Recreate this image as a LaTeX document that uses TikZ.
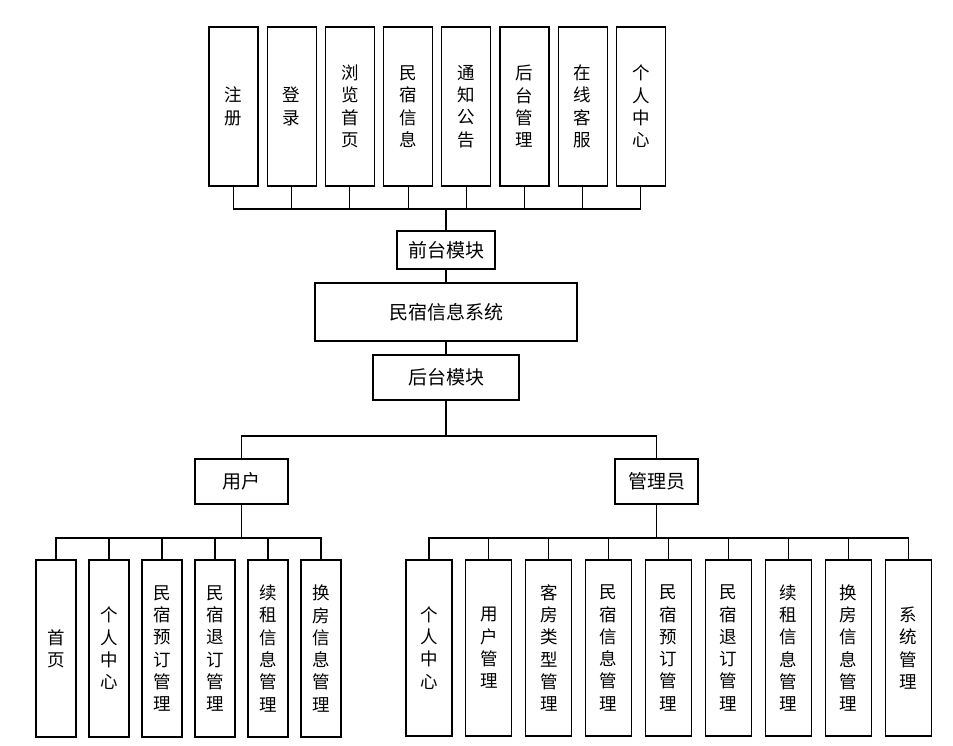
\documentclass[tikz,border=0pt]{standalone}
\usepackage{fontspec}
\setmainfont{Noto Sans CJK SC}
\usepackage{tikz}
\usetikzlibrary{positioning}

\tikzset{
  vbox/.style={draw, line width=1.1pt, align=center, inner sep=1pt,
               font=\fontsize{17.5}{22.3}\selectfont},
  topbox/.style={vbox, minimum width=49pt, minimum height=159pt},
  ubox/.style={vbox, minimum width=40pt, minimum height=177pt},
  abox/.style={vbox, minimum width=46pt, minimum height=176pt},
  hbox/.style={draw, line width=1.1pt, inner sep=1pt,
               font=\fontsize{19}{22}\selectfont},
}

\begin{document}
\begin{tikzpicture}[x=1pt, y=-1pt, line width=1.1pt]
\useasboundingbox (0,0) rectangle (953,746);

% front modules
\node[topbox] (reg) at (233.5,106.5) {注\\册};
\node[topbox, right=8.1pt of reg] (login) {登\\录};
\node[topbox, right=8.1pt of login] (browse) {浏\\览\\首\\页};
\node[topbox, right=8.1pt of browse] (info) {民\\宿\\信\\息};
\node[topbox, right=8.1pt of info] (notice) {通\\知\\公\\告};
\node[topbox, right=8.1pt of notice] (back) {后\\台\\管\\理};
\node[topbox, right=8.1pt of back] (service) {在\\线\\客\\服};
\node[topbox, right=8.1pt of service] (center) {个\\人\\中\\心};

% middle
\node[hbox, minimum width=98pt, minimum height=38pt] (front) at (446,250) {前台模块};
\node[hbox, minimum width=262pt, minimum height=58pt] (sys) at (446,312) {民宿信息系统};
\node[hbox, minimum width=146pt, minimum height=45pt] (backend) at (446,377.5) {后台模块};
\node[hbox, minimum width=93pt, minimum height=45pt] (user) at (241.5,481.5) {用户};
\node[hbox, minimum width=83pt, minimum height=45pt] (admin) at (656.5,481.5) {管理员};

% user modules
\node[ubox] (uhome) at (56,648.5) {首\\页};
\node[ubox, right=11.9pt of uhome] (ucenter) {个\\人\\中\\心};
\node[ubox, right=11.9pt of ucenter] (ubook) {民\\宿\\预\\订\\管\\理};
\node[ubox, right=11.9pt of ubook] (ucancel) {民\\宿\\退\\订\\管\\理};
\node[ubox, right=11.9pt of ucancel] (urenew) {续\\租\\信\\息\\管\\理};
\node[ubox, right=11.9pt of urenew] (uswap) {换\\房\\信\\息\\管\\理};

% admin modules
\node[abox] (acenter) at (429,648) {个\\人\\中\\心};
\node[abox, right=12.8pt of acenter] (auser) {用\\户\\管\\理};
\node[abox, right=12.8pt of auser] (aroom) {客\\房\\类\\型\\管\\理};
\node[abox, right=12.8pt of aroom] (ainfo) {民\\宿\\信\\息\\管\\理};
\node[abox, right=12.8pt of ainfo] (abook) {民\\宿\\预\\订\\管\\理};
\node[abox, right=12.8pt of abook] (acancel) {民\\宿\\退\\订\\管\\理};
\node[abox, right=12.8pt of acancel] (arenew) {续\\租\\信\\息\\管\\理};
\node[abox, right=12.8pt of arenew] (aswap) {换\\房\\信\\息\\管\\理};
\node[abox, right=12.8pt of aswap] (asys) {系\\统\\管\\理};

\coordinate (fbus) at (446,209);
\coordinate (bbus) at (446,436);
\coordinate (ubus) at (241.5,538);
\coordinate (abus) at (656.5,538);

\draw (reg.south) |- (fbus) (login.south) |- (fbus) (browse.south) |- (fbus)
      (info.south) |- (fbus) (notice.south) |- (fbus) (back.south) |- (fbus)
      (service.south) |- (fbus) (center.south) |- (fbus);
\draw (fbus) -- (front.north);
\draw (front) -- (sys);
\draw (sys) -- (backend);
\draw (backend) -- (bbus);
\draw (user.north) |- (bbus) -| (admin.north);
%
\draw (user) -- (ubus);
\draw (uhome.north) |- (ubus) (ucenter.north) |- (ubus) (ubook.north) |- (ubus)
      (ucancel.north) |- (ubus) (urenew.north) |- (ubus) (uswap.north) |- (ubus);
\draw (admin) -- (abus);
\draw (acenter.north) |- (abus) (auser.north) |- (abus) (aroom.north) |- (abus)
      (ainfo.north) |- (abus) (abook.north) |- (abus) (acancel.north) |- (abus)
      (arenew.north) |- (abus) (aswap.north) |- (abus) (asys.north) |- (abus);
\end{tikzpicture}
\end{document}
